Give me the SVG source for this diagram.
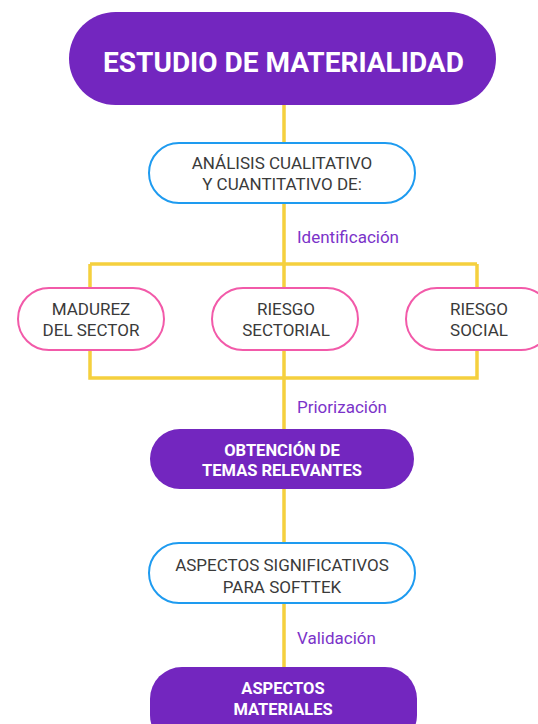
<svg xmlns="http://www.w3.org/2000/svg" width="538" height="724" viewBox="0 0 538 724">
<style>
.ln{stroke:#f5d03e;stroke-width:3.5;fill:none}
.main{fill:#7326bf}
.blue{fill:#fff;stroke:#1e9bf0;stroke-width:2}
.pink{fill:#fff;stroke:#f25aa9;stroke-width:2}
text{font-family:Roboto,"Open Sans",sans-serif;text-anchor:middle}
.t{font-size:17px;fill:#3a3a3a}
.w{font-size:16.5px;fill:#fff;font-weight:bold}
.lab{font-size:17px;fill:#7b33c9;text-anchor:start}
</style>
<rect width="538" height="724" fill="#fff"/>
<g id="connectors">
<path class="ln" d="M284 105V143M284 203V264M284 264V429M90 264H477M90 264V378H477V264M284 489V543M284 603V667"/>
</g>
<g id="title"><rect class="main" x="69" y="12" width="427" height="93" rx="46.5"/><text x="283.5" y="72" style="font-size:28px;font-weight:bold;fill:#fff">ESTUDIO DE MATERIALIDAD</text></g>
<g id="analisis"><rect class="blue" x="149" y="143" width="266" height="60" rx="30"/><text class="t" x="282" y="169">ANÁLISIS CUALITATIVO</text><text class="t" x="282" y="190">Y CUANTITATIVO DE:</text></g>
<g id="lbl-ident"><text class="lab" x="297" y="243">Identificación</text></g>
<g id="madurez"><rect class="pink" x="18" y="288" width="146" height="62" rx="31"/><text class="t" x="91" y="315">MADUREZ</text><text class="t" x="91" y="336">DEL SECTOR</text></g>
<g id="sectorial"><rect class="pink" x="212" y="288" width="146" height="62" rx="31"/><text class="t" x="286" y="315">RIESGO</text><text class="t" x="286" y="336">SECTORIAL</text></g>
<g id="social"><rect class="pink" x="406" y="288" width="146" height="62" rx="31"/><text class="t" x="479" y="315">RIESGO</text><text class="t" x="479" y="336">SOCIAL</text></g>
<g id="lbl-prior"><text class="lab" x="297" y="413">Priorización</text></g>
<g id="obtencion"><rect class="main" x="150" y="429" width="264" height="60" rx="30"/><text class="w" x="282" y="456">OBTENCIÓN DE</text><text class="w" x="282" y="476">TEMAS RELEVANTES</text></g>
<g id="significativos"><rect class="blue" x="149" y="543" width="266" height="60" rx="30"/><text class="t" x="282" y="571">ASPECTOS SIGNIFICATIVOS</text><text class="t" x="282" y="593">PARA SOFTTEK</text></g>
<g id="lbl-valid"><text class="lab" x="297" y="644">Validación</text></g>
<g id="materiales"><rect class="main" x="150" y="667" width="267" height="80" rx="32"/><text class="w" x="283" y="694">ASPECTOS</text><text class="w" x="283" y="715">MATERIALES</text></g>
</svg>
